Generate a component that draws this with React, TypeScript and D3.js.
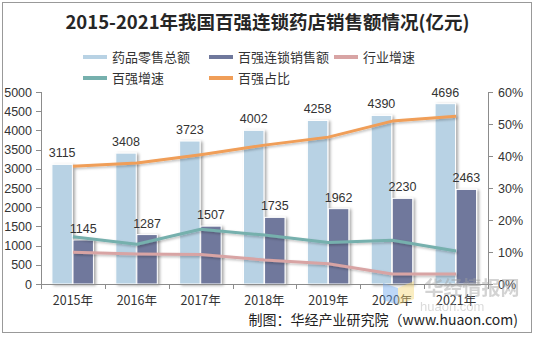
import React from "react";
import * as d3 from "d3";

const years = ["2015年", "2016年", "2017年", "2018年", "2019年", "2020年", "2021年"];
const retailTotal = [3115, 3408, 3723, 4002, 4258, 4390, 4696];
const top100Sales = [1145, 1287, 1507, 1735, 1962, 2230, 2463];
const industryGrowth = [9.9, 9.4, 9.2, 7.5, 6.3, 3.1, 3.1];
const top100Growth = [14.8, 12.4, 17.1, 15.3, 13.0, 13.7, 10.3];
const top100Share = [36.8, 37.8, 40.4, 43.4, 45.9, 50.9, 52.4];
const leftTicks = [0, 500, 1000, 1500, 2000, 2500, 3000, 3500, 4000, 4500, 5000];
const rightTicks = [0, 10, 20, 30, 40, 50, 60];

const W = 535, H = 337;
const L = 41, R = 488, T = 92, B = 284;
const C = {
  light: "#b8d2e4",
  dark: "#6f789c",
  pink: "#d8a4a4",
  teal: "#76b0ad",
  orange: "#f09e58",
  text: "#333333",
  axis: "#8c8c8c",
};
const numFont = "'Liberation Sans', Arial, sans-serif";
const cjkFont = "'Noto Sans CJK SC', 'Liberation Sans', sans-serif";

export default function App() {
  const x = d3.scaleBand<string>().domain(years).range([L, R]).padding(0);
  const inner = d3.scaleBand<string>().domain(["a", "b"]).range([-21, 20.5]).paddingInner(0.03);
  const yL = d3.scaleLinear().domain([0, 5000]).range([B, T]);
  const yR = d3.scaleLinear().domain([0, 60]).range([B, T]);
  const cx = (i: number) => (x(years[i]) as number) + x.bandwidth() / 2;
  const line = d3
    .line<number>()
    .x((_, i) => cx(i))
    .y((d) => yR(d));

  const series = [
    { name: "行业增速", data: industryGrowth, color: C.pink },
    { name: "百强增速", data: top100Growth, color: C.teal },
    { name: "百强占比", data: top100Share, color: C.orange },
  ];

  const legend = [
    { name: "药品零售总额", color: C.light, x: 83, y: 57 },
    { name: "百强连锁销售额", color: C.dark, x: 209, y: 57 },
    { name: "行业增速", color: C.pink, x: 334, y: 57 },
    { name: "百强增速", color: C.teal, x: 83, y: 78 },
    { name: "百强占比", color: C.orange, x: 209, y: 78 },
  ];

  const boundaries = years.map((y) => x(y) as number).concat([R]);

  return (
    <div style={{ position: "fixed", left: 0, top: 0 }}>
      <svg width={W} height={H} style={{ display: "block", background: "#fff" }}>
        <defs>
          <filter id="sh" x="-30%" y="-10%" width="160%" height="120%">
            <feDropShadow dx="2" dy="1" stdDeviation="1.6" floodColor="#000" floodOpacity="0.35" />
          </filter>
          <filter id="shl" x="-10%" y="-30%" width="120%" height="160%">
            <feDropShadow dx="1.5" dy="1.5" stdDeviation="1.2" floodColor="#000" floodOpacity="0.25" />
          </filter>
        </defs>
        <rect x={2.5} y={2.5} width={529} height={330} fill="#fff" stroke="#999" strokeWidth={1} />

        <text
          x={267.5}
          y={29}
          textAnchor="middle"
          fontFamily={cjkFont}
          fontWeight="bold"
          fontSize={18.5}
          fill="#262626"
        >
          2015-2021年我国百强连锁药店销售额情况(亿元)
        </text>

        {legend.map((d) => (
          <g key={d.name}>
            <line x1={d.x} x2={d.x + 24} y1={d.y} y2={d.y} stroke={d.color} strokeWidth={4} />
            <text x={d.x + 29} y={d.y + 4.5} fontFamily={cjkFont} fontSize={13} fill={C.text}>
              {d.name}
            </text>
          </g>
        ))}

        {/* bars */}
        {years.map((yr, i) => {
          const x0 = cx(i);
          const xa = x0 + (inner("a") as number);
          const xb = x0 + (inner("b") as number);
          const bw = inner.bandwidth();
          return (
            <g key={yr}>
              <rect
                x={xa}
                y={yL(retailTotal[i])}
                width={bw}
                height={B - yL(retailTotal[i])}
                fill={C.light}
                stroke="#fff"
                strokeWidth={1}
                filter="url(#sh)"
              />
              <rect
                x={xb}
                y={yL(top100Sales[i])}
                width={bw}
                height={B - yL(top100Sales[i])}
                fill={C.dark}
                stroke="#fff"
                strokeWidth={1}
                filter="url(#sh)"
              />
            </g>
          );
        })}

        {/* lines */}
        {series.map((s) => (
          <path
            key={s.name}
            d={line(s.data) as string}
            fill="none"
            stroke={s.color}
            strokeWidth={3}
            strokeLinejoin="round"
            strokeLinecap="butt"
            filter="url(#shl)"
          />
        ))}

        {/* bar labels */}
        {years.map((yr, i) => {
          const x0 = cx(i);
          const bw = inner.bandwidth();
          const xa = x0 + (inner("a") as number) + bw / 2;
          const xb = x0 + (inner("b") as number) + bw / 2;
          return (
            <g key={"l" + yr} fontFamily={numFont} fontSize={12.5} fill={C.text} textAnchor="middle">
              <text x={xa} y={yL(retailTotal[i]) - 7}>{retailTotal[i]}</text>
              <text x={xb} y={yL(top100Sales[i]) - 7}>{top100Sales[i]}</text>
            </g>
          );
        })}

        {/* axes */}
        <g stroke={C.axis} strokeWidth={1} fill="none">
          <line x1={L + 0.5} x2={L + 0.5} y1={T} y2={B} />
          <line x1={R + 0.5} x2={R + 0.5} y1={T} y2={B} />
          <line x1={L} x2={R} y1={B + 0.5} y2={B + 0.5} />
          {leftTicks.map((t) => (
            <line key={"lt" + t} x1={L - 5} x2={L} y1={Math.round(yL(t)) + 0.5} y2={Math.round(yL(t)) + 0.5} />
          ))}
          {rightTicks.map((t) => (
            <line key={"rt" + t} x1={R} x2={R + 5} y1={Math.round(yR(t)) + 0.5} y2={Math.round(yR(t)) + 0.5} />
          ))}
          {boundaries.map((b, i) => (
            <line key={"bt" + i} x1={Math.round(b) + 0.5} x2={Math.round(b) + 0.5} y1={B} y2={B + 5} />
          ))}
        </g>
        <g fontFamily={numFont} fontSize={12.5} fill={C.text}>
          {leftTicks.map((t) => (
            <text key={"ll" + t} x={L - 9} y={yL(t) + 4.5} textAnchor="end">
              {t}
            </text>
          ))}
          {rightTicks.map((t) => (
            <text key={"rl" + t} x={R + 10} y={yR(t) + 4.5} textAnchor="start">
              {t}%
            </text>
          ))}
        </g>
        <g fontFamily={cjkFont} fontSize={12.5} fill={C.text} textAnchor="middle">
          {years.map((yr, i) => (
            <text key={"x" + yr} x={cx(i)} y={305}>
              {yr}
            </text>
          ))}
        </g>

        {/* watermark */}
        <g opacity={0.45}>
          <polygon points="383,283 398,288 398,305 383,300" fill="#6fa8f0" />
          <polygon points="398,288 414,281 414,299 398,305" fill="#f5d878" />
          <text x={472} y={295} textAnchor="middle" fontFamily={cjkFont} fontWeight="bold" fontSize={19} fill="#a0a0a0">
            华经情报网
          </text>
          <text x={420} y={311} fontFamily={numFont} fontSize={13} fill="#b0b0b0">
            huaon.com
          </text>
        </g>

        <text x={518} y={325} textAnchor="end" fontFamily={cjkFont} fontSize={14} fill="#222">
          制图：华经产业研究院（www.huaon.com)
        </text>
      </svg>
    </div>
  );
}
